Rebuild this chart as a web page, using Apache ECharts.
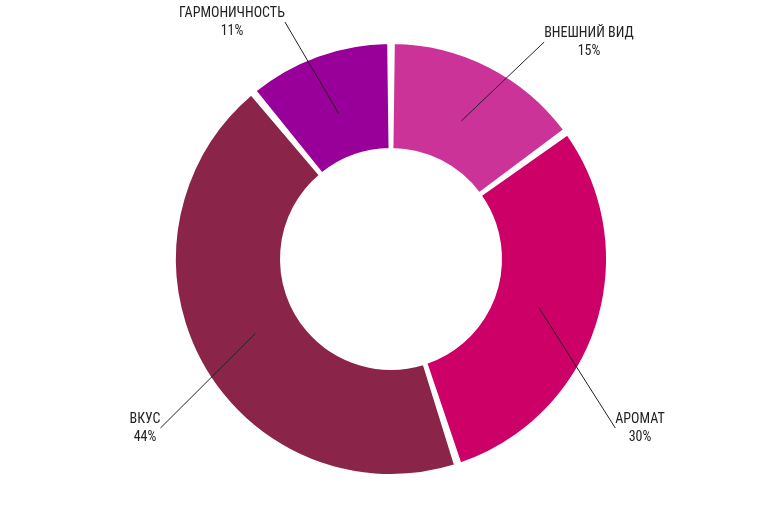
<!DOCTYPE html>
<html><head><meta charset="utf-8">
<script src="https://cdn.jsdelivr.net/npm/echarts@6/dist/echarts.min.js"></script>
<style>html,body{margin:0;background:#fff}#c{width:780px;height:525px}</style>
</head><body><div id="c"></div>
<script>
const categories = ["ВНЕШНИЙ ВИД", "АРОМАТ", "ВКУС", "ГАРМОНИЧНОСТЬ"];
const values = [15, 30, 44, 11];
const colors = ["#cc3399", "#cc0066", "#8b2449", "#990099"];
const labelPos = [[589, 42], [640, 428], [145, 428], [232, 22]];
const chart = echarts.init(document.getElementById('c'));
chart.setOption({
  animation: false,
  series: [{
    type: 'pie',
    center: [391, 259],
    radius: [110, 216],
    startAngle: 90,
    padAngle: 1.5,
    itemStyle: { borderColor: '#fff', borderWidth: 2 },
    label: { show: false }, labelLine: { show: false },
    data: categories.map((c, i) => ({ name: c, value: values[i], itemStyle: { color: colors[i] } }))
  }, {
    type: 'pie',
    center: [391, 259],
    radius: [0, 155],
    startAngle: 90,
    silent: true,
    z: 5,
    itemStyle: { color: 'rgba(0,0,0,0)' },
    data: categories.map((c, i) => ({ name: c, value: values[i] })),
    label: {
      formatter: '{b}\n{d}%', color: '#222', fontSize: 14, lineHeight: 18,
      fontFamily: '"Liberation Sans Narrow", "Roboto Condensed", "DejaVu Sans Condensed", sans-serif',
      align: 'center'
    },
    labelLine: { show: true, length: 20, length2: 0, lineStyle: { color: '#222', width: 1 } },
    labelLayout: p => ({ x: labelPos[p.dataIndex][0], y: labelPos[p.dataIndex][1], align: 'center', verticalAlign: 'middle' })
  }]
});
</script></body></html>
